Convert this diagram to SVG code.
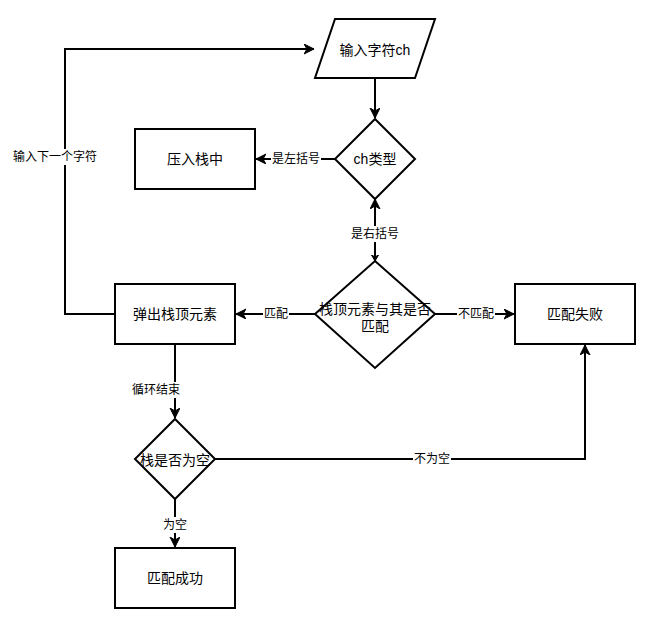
<svg xmlns="http://www.w3.org/2000/svg" width="658" height="622" viewBox="0 0 658 622">
<defs>
<style>
.shape{fill:#fff;stroke:#000;stroke-width:2}
.edge{fill:none;stroke:#000;stroke-width:2}
.t{font-family:"Liberation Sans","Noto Sans CJK SC",sans-serif;font-size:14px;fill:#000;text-anchor:middle;dominant-baseline:central}
.l{font-family:"Liberation Sans","Noto Sans CJK SC",sans-serif;font-size:12px;fill:#000;text-anchor:middle;dominant-baseline:central}
.bg{fill:#fff;stroke:none}
</style>
<marker id="arr" markerUnits="userSpaceOnUse" markerWidth="12" markerHeight="12" refX="10" refY="5" orient="auto" viewBox="0 0 12 12">
<path d="M0,0 L10,5 L0,10 L3,5 z" fill="#000" stroke="#000" stroke-width="1"/>
</marker>
<marker id="sarr" markerUnits="userSpaceOnUse" markerWidth="8" markerHeight="8" refX="6" refY="3.5" orient="auto" viewBox="0 0 8 8">
<path d="M0,0 L6,3.5 L0,7 L2,3.5 z" fill="#000" stroke="#000" stroke-width="1"/>
</marker>
</defs>
<rect width="658" height="622" fill="#fff"/>
<g id="edges">
<path class="edge" d="M375,78 V118" marker-end="url(#arr)"/>
<path class="edge" d="M335,159 H256" marker-end="url(#arr)"/>
<path class="edge" d="M375,260 V199" marker-end="url(#arr)"/>
<path class="edge" d="M375,252 V261" marker-end="url(#sarr)"/>
<path class="edge" d="M315,314 H236" marker-end="url(#arr)"/>
<path class="edge" d="M435,314 H514" marker-end="url(#arr)"/>
<path class="edge" d="M115,314 H65 V49 H314" marker-end="url(#arr)"/>
<path class="edge" d="M175,344 V418" marker-end="url(#arr)"/>
<path class="edge" d="M175,498 V547" marker-end="url(#arr)"/>
<path class="edge" d="M215,459 H585 V345" marker-end="url(#arr)"/>
<rect class="bg" x="271" y="151" width="50" height="16"/>
<text class="l" x="296" y="159">是左括号</text>
<rect class="bg" x="350" y="226" width="50" height="16"/>
<text class="l" x="375" y="234">是右括号</text>
<rect class="bg" x="263" y="306" width="26" height="16"/>
<text class="l" x="276" y="314">匹配</text>
<rect class="bg" x="457" y="306" width="38" height="16"/>
<text class="l" x="476" y="314">不匹配</text>
<rect class="bg" x="13" y="149" width="86" height="16"/>
<text class="l" x="55" y="157">输入下一个字符</text>
<rect class="bg" x="131" y="382" width="50" height="16"/>
<text class="l" x="156" y="390">循环结束</text>
<rect class="bg" x="162" y="517" width="26" height="16"/>
<text class="l" x="175" y="525">为空</text>
<rect class="bg" x="413" y="451" width="38" height="16"/>
<text class="l" x="432" y="459">不为空</text>
</g>
<g id="input">
<path class="shape" d="M335,19 H435 L415,78 H315 Z"/>
<text class="t" x="375" y="50">输入字符ch</text>
</g>
<g id="chtype">
<path class="shape" d="M375,119 L415,159 L375,199 L335,159 Z"/>
<text class="t" x="375" y="159">ch类型</text>
</g>
<g id="push">
<rect class="shape" x="135" y="129" width="120" height="60"/>
<text class="t" x="195" y="159">压入栈中</text>
</g>
<g id="match">
<path class="shape" d="M375,261 L435,314 L375,368 L315,314 Z"/>
<text class="t" x="375" y="309">栈顶元素与其是否</text>
<text class="t" x="375" y="326">匹配</text>
</g>
<g id="pop">
<rect class="shape" x="115" y="284" width="120" height="60"/>
<text class="t" x="175" y="314">弹出栈顶元素</text>
</g>
<g id="fail">
<rect class="shape" x="515" y="284" width="120" height="60"/>
<text class="t" x="575" y="314">匹配失败</text>
</g>
<g id="empty">
<path class="shape" d="M175,419 L215,459 L175,499 L135,459 Z"/>
<text class="t" x="175" y="460">栈是否为空</text>
</g>
<g id="success">
<rect class="shape" x="115" y="548" width="120" height="60"/>
<text class="t" x="175" y="578">匹配成功</text>
</g>
</svg>
